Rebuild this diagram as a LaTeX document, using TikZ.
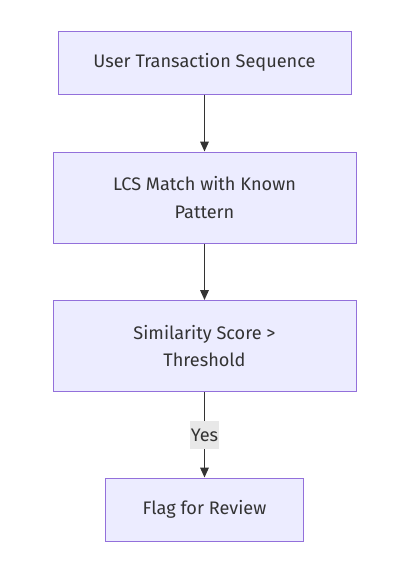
\documentclass[tikz,border=0pt]{standalone}
\usepackage{fontspec}
\setmainfont{Fira Sans}
\usetikzlibrary{arrows.meta,positioning}
\definecolor{boxfill}{HTML}{ECECFF}
\definecolor{boxline}{HTML}{9370DB}
\definecolor{ink}{HTML}{333333}
\definecolor{tagfill}{HTML}{E8E8E8}

\begin{document}
\begin{tikzpicture}[x=0.75pt,y=-0.75pt,
    flowbox/.style={draw=boxline,fill=boxfill,line width=0.75pt,text=ink,
        align=center,font=\fontsize{13.6}{20.5}\selectfont,inner sep=0pt},
    flowline/.style={draw=ink,line width=0.9pt,-{Triangle[length=7.5pt,width=6.5pt]}},
    tag/.style={fill=tagfill,text=ink,font=\fontsize{13.6}{16}\selectfont,
        inner sep=1pt,minimum height=21pt}]
% canvas
\useasboundingbox (0,0) rectangle (411,586);

% boxes
\node[flowbox,minimum width=219.75pt,minimum height=47.25pt] (seq) at (204.5,62.5)
    {User Transaction Sequence};
\node[flowbox,minimum width=227.25pt,minimum height=68.25pt] (lcs) at (204.5,197.5)
    {LCS Match with Known\\Pattern};
\node[flowbox,minimum width=227.25pt,minimum height=68.25pt] (score) at (204.5,346)
    {Similarity Score >\\Threshold};
\node[flowbox,minimum width=148.5pt,minimum height=47.25pt] (flag) at (204.5,509.5)
    {Flag for Review};

% connectors
\draw[flowline] (seq) -- (lcs);
\draw[flowline] (lcs) -- (score);
\draw[flowline] (score) -- (flag);
\node[tag] (yes) at (204.5,435) {Yes};
\end{tikzpicture}
\end{document}
